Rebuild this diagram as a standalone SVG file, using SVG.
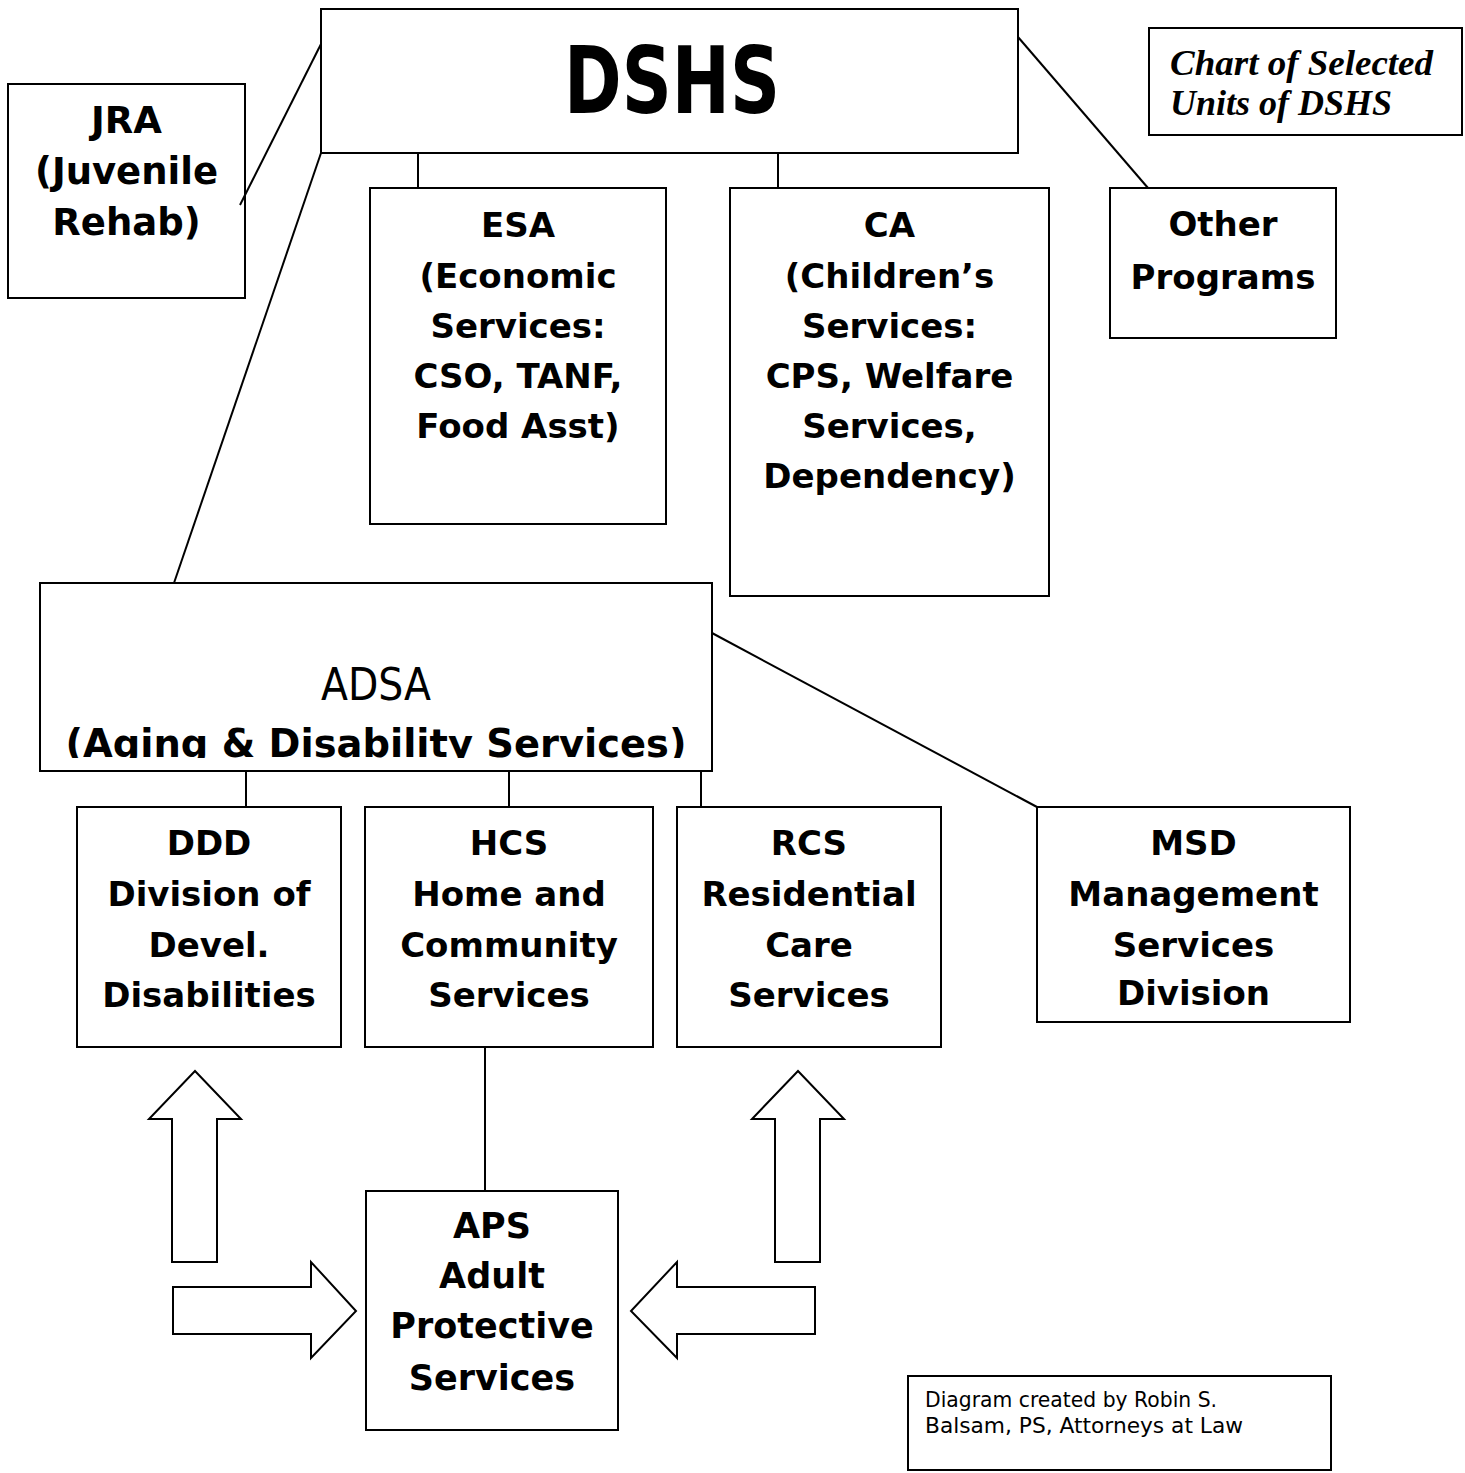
<svg xmlns="http://www.w3.org/2000/svg" width="1465" height="1473" viewBox="0 0 1465 1473">
<defs>
<style>
.box{fill:#fff;stroke:#000;stroke-width:2}
.ln{stroke:#000;stroke-width:2;fill:none}
.arr{fill:#fff;stroke:#000;stroke-width:2;stroke-linejoin:miter}
.t{font-family:"DejaVu Sans",Verdana,sans-serif;font-weight:bold;font-size:34px;text-anchor:middle;fill:#000}
.big{font-family:"DejaVu Sans",Verdana,sans-serif;font-weight:bold;font-size:93px;text-anchor:middle;fill:#000}
.title{font-family:"Liberation Serif","Times New Roman",serif;font-weight:bold;font-style:italic;font-size:36px;fill:#000}
.foot{font-family:"DejaVu Sans",Verdana,sans-serif;font-size:22px;fill:#000}
</style>
<clipPath id="adsaClip"><rect x="40" y="583" width="672" height="175"/></clipPath>
</defs>
<rect width="1465" height="1473" fill="#fff"/>

<g id="dshs">
<rect class="box" x="321" y="9" width="697" height="144"/>
<text class="big" x="672" y="113" textLength="216" lengthAdjust="spacingAndGlyphs">DSHS</text>
</g>

<g id="jra">
<rect class="box" x="8" y="84" width="237" height="214"/>
<text class="t" style="font-size:37px" x="126.5"><tspan x="126.5" y="133">JRA</tspan><tspan x="126.5" y="184">(Juvenile</tspan><tspan x="126.5" y="235">Rehab)</tspan></text>
</g>

<g id="title">
<rect class="box" x="1149" y="28" width="313" height="107"/>
<text class="title" x="1170" y="75" textLength="263" lengthAdjust="spacingAndGlyphs">Chart of Selected</text>
<text class="title" x="1170" y="115">Units of DSHS</text>
</g>

<g id="esa">
<rect class="box" x="370" y="188" width="296" height="336"/>
<text class="t"><tspan x="518" y="237">ESA</tspan><tspan x="518" y="288">(Economic</tspan><tspan x="518" y="338">Services:</tspan><tspan x="518" y="388">CSO, TANF,</tspan><tspan x="518" y="438">Food Asst)</tspan></text>
</g>

<g id="ca">
<rect class="box" x="730" y="188" width="319" height="408"/>
<text class="t"><tspan x="889.5" y="237">CA</tspan><tspan x="889.5" y="288">(Children’s</tspan><tspan x="889.5" y="338">Services:</tspan><tspan x="889.5" y="388">CPS, Welfare</tspan><tspan x="889.5" y="438">Services,</tspan><tspan x="889.5" y="488">Dependency)</tspan></text>
</g>

<g id="other">
<rect class="box" x="1110" y="188" width="226" height="150"/>
<text class="t"><tspan x="1223" y="236">Other</tspan><tspan x="1223" y="289">Programs</tspan></text>
</g>

<g id="adsa">
<rect class="box" x="40" y="583" width="672" height="188"/>
<g clip-path="url(#adsaClip)">
<text class="t" style="font-weight:normal;font-size:45px" x="376" y="700" textLength="110" lengthAdjust="spacingAndGlyphs">ADSA</text>
<text class="t" style="font-size:39px" x="376" y="757" textLength="621" lengthAdjust="spacingAndGlyphs">(Aging &amp; Disability Services)</text>
</g>
</g>

<g id="ddd">
<rect class="box" x="77" y="807" width="264" height="240"/>
<text class="t"><tspan x="209" y="855">DDD</tspan><tspan x="209" y="906">Division of</tspan><tspan x="209" y="957">Devel.</tspan><tspan x="209" y="1007">Disabilities</tspan></text>
</g>

<g id="hcs">
<rect class="box" x="365" y="807" width="288" height="240"/>
<text class="t"><tspan x="509" y="855">HCS</tspan><tspan x="509" y="906">Home and</tspan><tspan x="509" y="957">Community</tspan><tspan x="509" y="1007">Services</tspan></text>
</g>

<g id="rcs">
<rect class="box" x="677" y="807" width="264" height="240"/>
<text class="t"><tspan x="809" y="855">RCS</tspan><tspan x="809" y="906">Residential</tspan><tspan x="809" y="957">Care</tspan><tspan x="809" y="1007">Services</tspan></text>
</g>

<g id="msd">
<rect class="box" x="1037" y="807" width="313" height="215"/>
<text class="t"><tspan x="1193.5" y="855">MSD</tspan><tspan x="1193.5" y="906">Management</tspan><tspan x="1193.5" y="957">Services</tspan><tspan x="1193.5" y="1005">Division</tspan></text>
</g>

<g id="aps">
<rect class="box" x="366" y="1191" width="252" height="239"/>
<text class="t" style="font-size:35px"><tspan x="492" y="1238">APS</tspan><tspan x="492" y="1288">Adult</tspan><tspan x="492" y="1338">Protective</tspan><tspan x="492" y="1390">Services</tspan></text>
</g>

<g id="footer">
<rect class="box" x="908" y="1376" width="423" height="94"/>
<text class="foot" x="925" y="1407" textLength="292" lengthAdjust="spacingAndGlyphs">Diagram created by Robin S.</text>
<text class="foot" x="925" y="1433" textLength="318" lengthAdjust="spacingAndGlyphs">Balsam, PS, Attorneys at Law</text>
</g>

<g id="arrows">
<polygon class="arr" points="172,1262 217,1262 217,1119 241,1119 195,1071 149,1119 172,1119"/>
<polygon class="arr" points="173,1287 311,1287 311,1262 356,1311 311,1358 311,1334 173,1334"/>
<polygon class="arr" points="775,1262 820,1262 820,1119 844,1119 798,1071 752,1119 775,1119"/>
<polygon class="arr" points="815,1287 677,1287 677,1262 631,1311 677,1358 677,1334 815,1334"/>
</g>

<g id="connectors">
<line class="ln" x1="321" y1="44" x2="240" y2="205"/>
<line class="ln" x1="321" y1="153" x2="174" y2="583"/>
<line class="ln" x1="418" y1="153" x2="418" y2="188"/>
<line class="ln" x1="778" y1="153" x2="778" y2="188"/>
<line class="ln" x1="1018" y1="37" x2="1148" y2="188"/>
<line class="ln" x1="246" y1="771" x2="246" y2="807"/>
<line class="ln" x1="509" y1="771" x2="509" y2="807"/>
<line class="ln" x1="701" y1="771" x2="701" y2="807"/>
<line class="ln" x1="712" y1="633" x2="1037" y2="807"/>
<line class="ln" x1="485" y1="1047" x2="485" y2="1191"/>
</g>
</svg>
